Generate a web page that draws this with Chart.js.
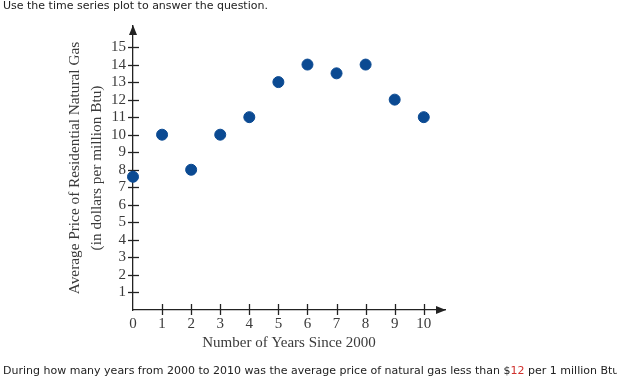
<!DOCTYPE html>
<html><head><meta charset="utf-8">
<script src="https://cdn.jsdelivr.net/npm/chart.js@4/dist/chart.umd.min.js"></script>
<style>
html,body{margin:0;padding:0;background:#fff;width:617px;height:384px;overflow:hidden;}
#wrap{position:relative;width:617px;height:384px;overflow:hidden;}
canvas{position:absolute;left:0;top:0;}
.txt{position:absolute;left:3px;font-family:"DejaVu Sans",Verdana,sans-serif;font-size:11px;line-height:14px;color:#222;white-space:nowrap;}
#head{top:-1px;}
#foot{top:364px;}
.red{color:#d0312d;}
</style></head>
<body>
<div id="wrap">
<canvas id="c" width="617" height="384"></canvas>
<div class="txt" id="head">Use the time series plot to answer the question.</div>
<div class="txt" id="foot">During how many years from 2000 to 2010 was the average price of natural gas less than $<span class="red">12</span> per 1 million Btu</div>
</div>
<script>
const years = [0, 1, 2, 3, 4, 5, 6, 7, 8, 9, 10];
const prices = [7.6, 10, 8, 10, 11, 13, 14, 13.5, 14, 12, 11];
const xTickValues = [0, 1, 2, 3, 4, 5, 6, 7, 8, 9, 10];
const yTickValues = [1, 2, 3, 4, 5, 6, 7, 8, 9, 10, 11, 12, 13, 14, 15];
const xTitle = 'Number of Years Since 2000';
const yTitle = ['Average Price of Residential Natural Gas', '(in dollars per million Btu)'];

const axisColor = '#222';
const serif = '"Liberation Serif", "Times New Roman", serif';

const crossTicks = {
  id: 'crossTicks',
  beforeDatasetsDraw(chart) {
    const {ctx, chartArea, scales: {x, y}} = chart;
    const ax = x.getPixelForValue(0);
    const ay = y.getPixelForValue(0);
    ctx.save();
    ctx.strokeStyle = axisColor;
    ctx.fillStyle = axisColor;
    ctx.lineWidth = 1.3;
    y.ticks.forEach(t => {
      const py = Math.round(y.getPixelForValue(t.value)) + 0.5;
      ctx.beginPath(); ctx.moveTo(ax - 5, py); ctx.lineTo(ax + 6, py); ctx.stroke();
    });
    x.ticks.forEach(t => {
      if (t.value === 0) return;
      const px = Math.round(x.getPixelForValue(t.value)) + 0.5;
      ctx.beginPath(); ctx.moveTo(px, ay - 6); ctx.lineTo(px, ay + 5); ctx.stroke();
    });
    const top = chartArea.top, right = chartArea.right;
    ctx.beginPath(); ctx.moveTo(ax, top - 1); ctx.lineTo(ax - 4, top + 9); ctx.lineTo(ax + 4, top + 9); ctx.closePath(); ctx.fill();
    ctx.beginPath(); ctx.moveTo(right + 1, ay); ctx.lineTo(right - 9, ay - 4); ctx.lineTo(right - 9, ay + 4); ctx.closePath(); ctx.fill();
    ctx.restore();
  }
};

new Chart(document.getElementById('c'), {
  type: 'scatter',
  data: {
    datasets: [{
      data: years.map((v, i) => ({x: v, y: prices[i]})),
      backgroundColor: '#0b4a92',
      borderColor: '#0b4a92',
      pointRadius: 5.5,
      pointHoverRadius: 5.5,
      clip: false
    }]
  },
  options: {
    responsive: false,
    animation: false,
    events: [],
    layout: {padding: {left: 64, top: 26, right: 172, bottom: 32}},
    plugins: {legend: {display: false}, tooltip: {enabled: false}},
    scales: {
      x: {
        type: 'linear', min: 0, max: 10.73,
        afterBuildTicks: s => { s.ticks = xTickValues.map(v => ({value: v})); },
        afterFit: s => { s.height = 42; },
        grid: {display: false, drawTicks: false},
        border: {display: true, color: axisColor, width: 1.3},
        ticks: {font: {family: serif, size: 15}, color: '#3a3a3a', padding: 5, maxRotation: 0, autoSkip: false},
        title: {display: true, text: xTitle, font: {family: serif, size: 15}, color: '#3a3a3a', padding: 0}
      },
      y: {
        type: 'linear', min: 0, max: 16.2,
        afterBuildTicks: s => { s.ticks = yTickValues.map(v => ({value: v})); },
        afterFit: s => { s.width = 69; },
        grid: {display: false, drawTicks: false},
        border: {display: true, color: axisColor, width: 1.3},
        ticks: {font: {family: serif, size: 15}, color: '#3a3a3a', padding: 7, autoSkip: false},
        title: {display: true, text: yTitle, font: {family: serif, size: 15.3, lineHeight: 1.42}, color: '#3a3a3a', padding: 0}
      }
    }
  },
  plugins: [crossTicks]
});
</script>
</body></html>
